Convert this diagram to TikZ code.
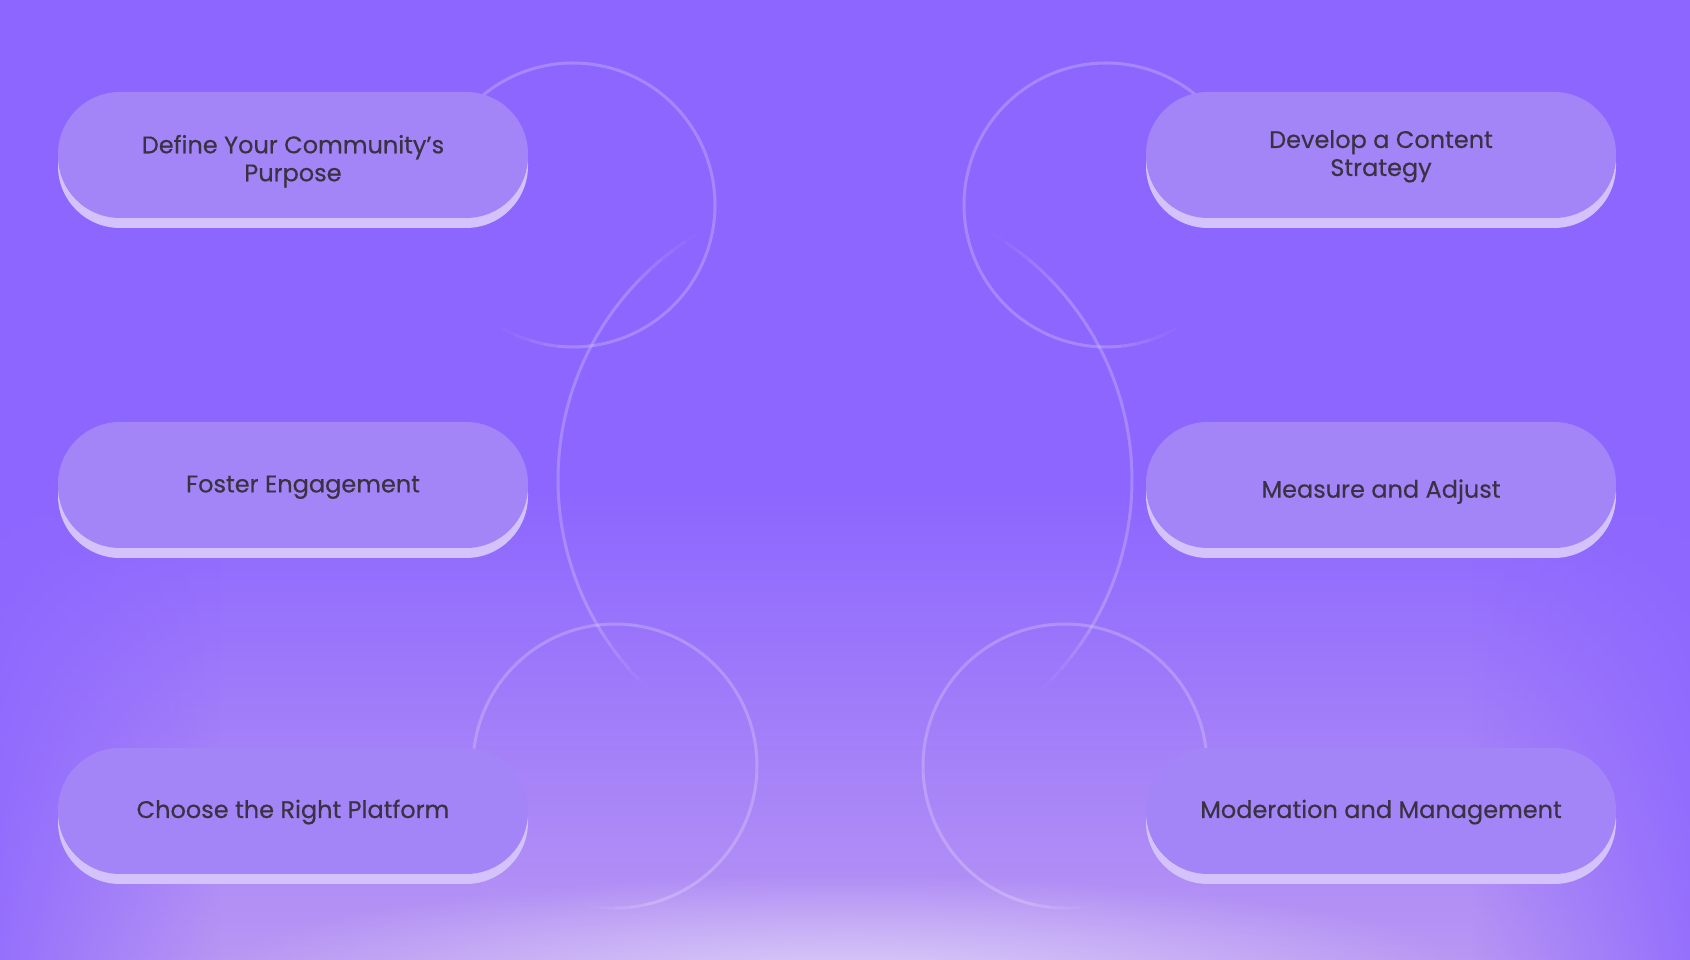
\documentclass[tikz,border=0pt]{standalone}
\usepackage{fontspec}
\setmainfont{Poppins}
\newfontfamily\stepfont{Poppins}[FakeBold=0.4]
\usetikzlibrary{shadows,fadings}

\definecolor{bg}{HTML}{8C66FF}
\definecolor{glowhi}{HTML}{DDD0F9}
\definecolor{glowmid}{HTML}{9F7BFB}
\definecolor{glowlow}{HTML}{B896F3}
\definecolor{pillfill}{HTML}{A385F7}
\definecolor{pillrim}{HTML}{D4C2FA}
\definecolor{ink}{HTML}{3A3142}

\tikzfading[name=glowfade, inner color=transparent!0, outer color=transparent!100]

% label text, its first baseline raised by #1
\newcommand{\steplabel}[2]{\raisebox{#1}[0pt][0pt]{\begin{tabular}[t]{@{}c@{}}#2\end{tabular}}}

\begin{document}
\begin{tikzpicture}[
  x=1pt, y=1pt,
  line join=round,
  ring/.style={draw=white, line width=3pt},
  pillbox/.style={rectangle, rounded corners=62pt, minimum width=470pt,
    minimum height=126pt, inner sep=0pt, fill=pillfill, text=ink,
    font=\stepfont\fontsize{24}{28}\selectfont,
    drop shadow={shadow xshift=0pt, shadow yshift=-10pt, fill=pillrim, opacity=1}},
]
\useasboundingbox (0,0) rectangle (1690,960);

% ── the backdrop, lighter towards the bottom ──────────────────────────────
\fill[bg] (0,0) rectangle (1690,960);
\shade[top color=bg, middle color=glowmid, bottom color=glowlow] (0,0) rectangle (1690,470);
\fill[bg, path fading=east] (-60,0) rectangle (220,600);      % darker flanks
\fill[bg, path fading=west] (1470,0) rectangle (1750,600);
\begin{scope}
  \clip (0,0) rectangle (1690,960);
  \fill[glowhi, path fading=glowfade] (845,-25) ellipse [x radius=650, y radius=110];
\end{scope}

% ── four small rings, each one dying away on one side ─────────────────────
\foreach \cx/\cy/\dead in {573/755/213, 1106/755/327, 615/194/232, 1065/194/308} {
  \foreach \a in {0,6,...,354} {
    \pgfmathsetmacro\op{0.22*min(1,max(0,3*(1-cos(\a+3-\dead))-0.25))}
    \draw[ring, draw opacity=\op] (\cx,\cy) ++(\a:142)
      arc[start angle=\a, end angle=\a+6, radius=142];
  }
}

% ── the big ring in the middle, only its two flanks ───────────────────────
\foreach \s/\e in {121/227, -47/59} {
  \foreach \i in {0,...,35} {
    \pgfmathsetmacro\a{\s+(\e-\s)*\i/36}
    \pgfmathsetmacro\b{\s+(\e-\s)*(\i+1)/36}
    \pgfmathsetmacro\op{0.22*min(1,2*sin(180*(\i+0.5)/36))}
    \draw[ring, draw opacity=\op] (845,480) ++(\a:287)
      arc[start angle=\a, end angle=\b, radius=287];
  }
}

% ── the six steps ─────────────────────────────────────────────────────────
\node[pillbox] (purpose)  at (293,805)  {\steplabel{1.7pt}{Define Your Community’s\\Purpose}};
\node[pillbox] (engage)   at (293,475)  {\steplabel{-7.4pt}{\hspace*{20pt}Foster Engagement}};
\node[pillbox] (platform) at (293,149)  {\steplabel{-7pt}{Choose the Right Platform}};

\node[pillbox] (content)  at (1381,805) {\steplabel{7pt}{Develop a Content\\Strategy}};
\node[pillbox] (measure)  at (1381,475) {\steplabel{-12.7pt}{Measure and Adjust}};
\node[pillbox] (moderate) at (1381,149) {\steplabel{-7pt}{Moderation and Management}};

\end{tikzpicture}
\end{document}
